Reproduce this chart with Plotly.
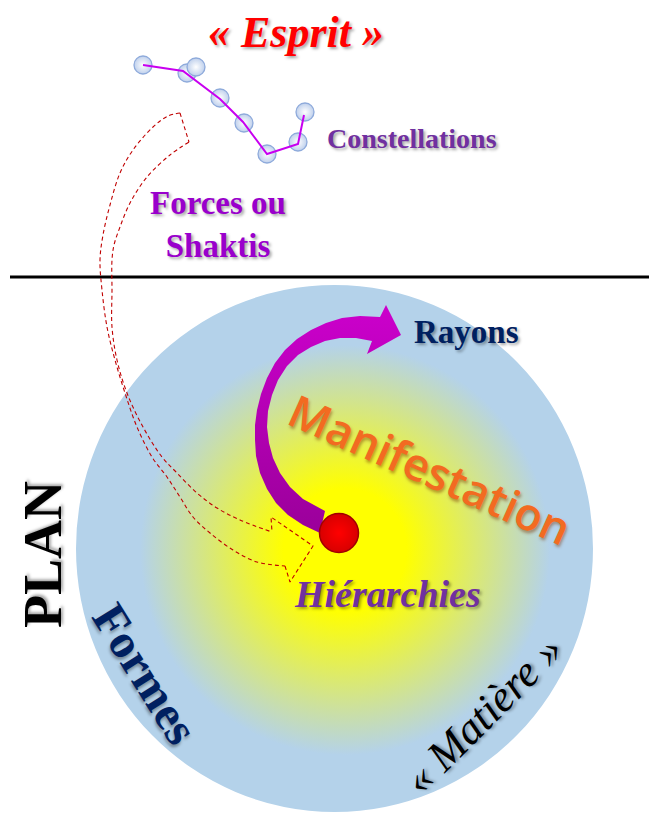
import numpy as np
import plotly.graph_objects as go

W, H = 657, 840
OFF = 8  # page body margin: shift axis ranges so data units equal page pixels

# ---- diagram data (pixel-space coordinates of the drawing) ----
star_x = [143, 187, 196, 220, 244, 267, 298, 305]
star_y = [65, 73, 67, 98, 123, 154, 142, 112]
link_x = [143, 183, 220, 243, 267, 298, 304]
link_y = [65, 71, 99, 122, 154, 144, 115]

dash_outer_x = [180, 168, 153, 133, 120, 110, 103, 100, 102, 107, 115, 125, 137, 152, 167, 180, 193, 210, 233, 257, 285]
dash_outer_y = [113, 116, 127, 150, 173, 205, 235, 260, 290, 327, 360, 393, 427, 457, 477, 497, 517, 533, 550, 562, 566]
dash_inner_x = [189, 170, 147, 130, 120, 114, 112, 112, 112, 117, 127, 143, 162, 177, 197, 217, 240, 272]
dash_inner_y = [142, 155, 177, 203, 227, 245, 260, 290, 327, 360, 393, 427, 457, 473, 493, 508, 520, 532]
dash_head_x = [285, 290, 313, 271, 272]
dash_head_y = [566, 582, 546, 517, 532]
dash_tail_x = [180, 189]
dash_tail_y = [113, 142]

ray_x = [320, 303, 288, 276, 267, 260, 256, 255, 255, 257, 261, 267, 275, 285, 297, 311, 326, 342, 360, 380,
         386, 401, 367,
         372, 356, 340, 325, 311, 298, 287, 278, 272, 268, 267, 269, 273, 280, 290, 303, 325, 320]
ray_y = [533, 525, 515, 503, 489, 473, 456, 440, 425, 410, 394, 378, 363, 350, 339, 330, 323, 318, 316, 317,
         305, 335, 354,
         341, 338, 338, 341, 347, 355, 366, 380, 395, 411, 427, 443, 458, 473, 487, 499, 511, 533]

core_x = [339]
core_y = [533]

plane_y = [277, 277]
plane_x = [10, 665]

sphere_box = [76, 285, 593, 812]       # x0, y0, x1, y1
glow_center = [345, 550]
glow_radius = 205

labels = ["« Esprit »", "Constellations", "Forces ou<br>Shaktis", "Rayons",
          "Manifestation", "Hiérarchies", "PLAN", "Formes", "« Matière »"]

fig = go.Figure()

# sphere
fig.add_shape(type="circle", xref="x", yref="y",
              x0=sphere_box[0], y0=sphere_box[1], x1=sphere_box[2], y1=sphere_box[3],
              fillcolor="#B4D2EA", line=dict(width=0), layer="below")

t = np.linspace(0, 2 * np.pi, 241)
fig.add_trace(go.Scatter(
    x=glow_center[0] + glow_radius * np.cos(t),
    y=glow_center[1] + glow_radius * np.sin(t),
    mode="lines", fill="toself", line=dict(width=0, color="rgba(0,0,0,0)"),
    fillgradient=dict(type="radial",
                      colorscale=[[0, "#FFFF00"], [0.3, "#FFFF00"], [1, "#B4D2EA"]]),
    hoverinfo="skip", showlegend=False))

# plane line
fig.add_trace(go.Scatter(x=plane_x, y=plane_y, mode="lines",
                         line=dict(color="black", width=3),
                         hoverinfo="skip", showlegend=False))

# constellation
fig.add_trace(go.Scatter(x=star_x, y=star_y, mode="markers",
                         marker=dict(size=18, color="#BFD0EC",
                                     gradient=dict(type="radial", color="#FFFFFF"),
                                     line=dict(color="#8EAADB", width=1.3)),
                         hoverinfo="skip", showlegend=False))
fig.add_trace(go.Scatter(x=link_x, y=link_y, mode="lines",
                         line=dict(color="#C800F0", width=2),
                         hoverinfo="skip", showlegend=False))

# dashed arrow
dash_style = dict(color="#C00000", width=1.1, dash="4px,3px")
for xs, ys, shp in [(dash_outer_x, dash_outer_y, "spline"),
                    (dash_inner_x, dash_inner_y, "spline"),
                    (dash_head_x, dash_head_y, "linear"),
                    (dash_tail_x, dash_tail_y, "linear")]:
    fig.add_trace(go.Scatter(x=xs, y=ys, mode="lines",
                             line=dict(shape=shp, **dash_style),
                             hoverinfo="skip", showlegend=False))

# rays arrow
fig.add_trace(go.Scatter(x=ray_x, y=ray_y, mode="lines", fill="toself",
                         line=dict(width=0, color="rgba(0,0,0,0)"),
                         fillgradient=dict(type="vertical",
                                           colorscale=[[0, "#9A009A"], [1, "#CC00CC"]]),
                         hoverinfo="skip", showlegend=False))

# core
fig.add_trace(go.Scatter(x=core_x, y=core_y, mode="markers",
                         marker=dict(size=39, color="#D80000",
                                     gradient=dict(type="radial", color="#FF0000"),
                                     line=dict(color="#A00000", width=1.5)),
                         hoverinfo="skip", showlegend=False))

serif = "Liberation Serif"
shadow = "2px 2px 3px rgba(0,0,0,0.35)"

def label(text, x, y, size, color, family=serif, weight="bold", style="normal",
          angle=0, sh=shadow):
    fig.add_annotation(x=x, y=y, xref="x", yref="y", text=text, showarrow=False,
                       xanchor="center", yanchor="middle", textangle=angle,
                       font=dict(family=family, size=size, color=color, weight=weight,
                                 style=style, shadow=sh))

label(labels[0], 296, 32, 44, "#FF0000", style="italic")
label(labels[1], 412, 138, 28, "#7030A0")
label(labels[2], 218, 224, 33, "#9900CC")
label(labels[3], 466, 332, 33, "#002060")
label(labels[4], 430, 468, 45, "#F26B21", family="Open Sans", weight=600, angle=24,
      sh="2px 2px 3px rgba(120,50,0,0.45)")
label(labels[5], 387, 594, 38, "#7030A0", style="italic")
label(labels[6], 43, 555, 54, "#000000", angle=-90)
label(labels[7], 146, 673, 48, "#002060", angle=58)
label(labels[8], 483, 714, 44, "#000000", weight="normal", style="italic", angle=-45)

fig.update_layout(width=W, height=H, autosize=False,
                  margin=dict(l=0, r=0, t=0, b=0),
                  paper_bgcolor="white", plot_bgcolor="white",
                  showlegend=False,
                  xaxis=dict(range=[OFF, W + OFF], visible=False, fixedrange=True),
                  yaxis=dict(range=[H + OFF, OFF], visible=False, fixedrange=True))

fig.write_html("out.html")
